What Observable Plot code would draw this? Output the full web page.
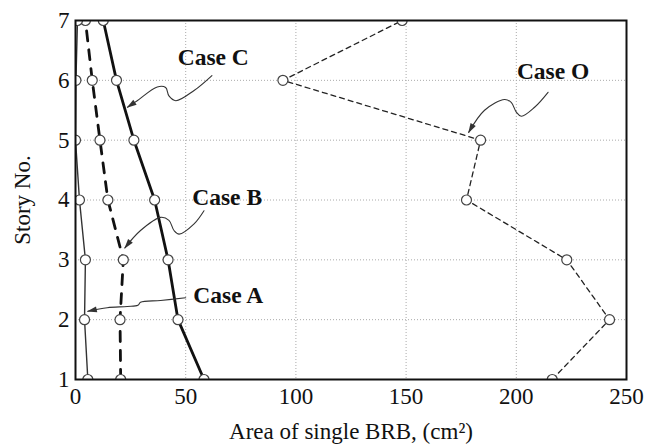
<!DOCTYPE html>
<html>
<head>
<meta charset="utf-8">
<script src="https://cdn.jsdelivr.net/npm/d3@7"></script>
<script src="https://cdn.jsdelivr.net/npm/@observablehq/plot@0.6"></script>
<style>
  html, body { margin: 0; padding: 0; background: white; }
</style>
</head>
<body>
<div id="chart"></div>
<script>
// ---- data ----
const stories = [1, 2, 3, 4, 5, 6, 7];
const caseO = [216.3, 242.3, 222.9, 177.4, 183.8, 94.1, 148.2];
const caseC = [58.3, 46.5, 42.0, 35.9, 26.5, 18.6, 12.6];
const caseB = [20.5, 20.2, 21.7, 14.7, 11.1, 7.6, 4.5];
const caseA = [5.6, 4.1, 4.5, 1.8, 0.0, 0.2, 0.9];

const xTicks = [0, 50, 100, 150, 200, 250];
const yTicks = [1, 2, 3, 4, 5, 6, 7];
const xGrid = [50, 100, 150, 200];
const yGrid = [2, 3, 4, 5, 6];

const xLabel = "Area of single BRB, (cm\u00B2)";
const yLabel = "Story No.";

// annotation labels
const labelText = ["Case C", "Case B", "Case A", "Case O"];
const labelX = [62.5, 68.8, 69.3, 216.7];
const labelY = [6.38, 4.04, 2.40, 6.14];

// annotation squiggle arrows (data coordinates)
const arrowCx = [61.9, 53.8, 45.5, 42.4, 40.9, 37.1, 28.0, 23.6];
const arrowCy = [6.08, 5.83, 5.66, 5.74, 5.88, 5.89, 5.66, 5.55];
const arrowBx = [58.3, 53.8, 47.0, 44.7, 42.4, 38.6, 29.5, 22.4];
const arrowBy = [3.82, 3.60, 3.43, 3.49, 3.66, 3.71, 3.49, 3.20];
const arrowAx = [50.0, 38.6, 29.5, 28.3, 23.5, 14.4, 5.6];
const arrowAy = [2.365, 2.32, 2.29, 2.24, 2.22, 2.20, 2.14];
const arrowOx = [214.4, 208.3, 202.3, 200.0, 197.7, 194.7, 185.6, 178.4];
const arrowOy = [5.80, 5.55, 5.40, 5.47, 5.63, 5.68, 5.50, 5.13];

const font = "'Liberation Serif', 'Times New Roman', serif";

const idx = a => a.map((_, i) => i);
const arrow = (xs, ys) => Plot.line(idx(xs), {
  x: xs, y: ys, curve: "catmull-rom", stroke: "#333", strokeWidth: 1.1,
  markerEnd: "arrow"
});
const dots = xs => Plot.dot(stories, {
  x: xs, y: stories, r: 5, fill: "white", stroke: "#444", strokeWidth: 1.2, clip: true
});

const chart = Plot.plot({
  width: 656,
  height: 446,
  marginLeft: 75,
  marginRight: 30,
  marginTop: 20,
  marginBottom: 67,
  style: { fontFamily: font, background: "white", color: "black" },
  x: { domain: [0, 250] },
  y: { domain: [1, 7] },
  marks: [
    Plot.gridX(xGrid, { stroke: "#aaa", strokeOpacity: 1, strokeWidth: 1, strokeDasharray: "1,2" }),
    Plot.gridY(yGrid, { stroke: "#aaa", strokeOpacity: 1, strokeWidth: 1, strokeDasharray: "1,2" }),
    Plot.axisX(xTicks, { tickSize: 0, tickPadding: 8, fontSize: 23, label: null, fill: "#111", tickFormat: d3.format("d") }),
    Plot.axisY(yTicks, { tickSize: 0, tickPadding: 6, fontSize: 23, label: null, fill: "#111", tickFormat: d3.format("d") }),
    Plot.text([xLabel], { frameAnchor: "bottom", dy: 52, lineAnchor: "middle", textAnchor: "middle", fontSize: 23, fill: "#111" }),
    Plot.text([yLabel], { frameAnchor: "left", dx: -53, rotate: -90, lineAnchor: "middle", textAnchor: "middle", fontSize: 23, fill: "#111" }),
    // series lines
    Plot.line(stories, { x: caseO, y: stories, stroke: "#222", strokeWidth: 1.3, strokeDasharray: "5,4", clip: true }),
    Plot.line(stories, { x: caseC, y: stories, stroke: "#111", strokeWidth: 2.8, clip: true }),
    Plot.line(stories, { x: caseB, y: stories, stroke: "#111", strokeWidth: 2.8, strokeDasharray: "10,9", clip: true }),
    Plot.line(stories, { x: caseA, y: stories, stroke: "#333", strokeWidth: 1.4, clip: true }),
    dots(caseO), dots(caseC), dots(caseB), dots(caseA),
    // annotations
    arrow(arrowCx, arrowCy),
    arrow(arrowBx, arrowBy),
    arrow(arrowAx, arrowAy),
    arrow(arrowOx, arrowOy),
    Plot.text(labelText, { x: labelX, y: labelY, text: d => d, fontSize: 23.5, fontWeight: "bold", fill: "#111" }),
    Plot.frame({ stroke: "#111", strokeWidth: 2 })
  ]
});

// filled arrowheads for the annotation arrows
chart.querySelectorAll("marker").forEach(m => {
  const color = m.getAttribute("stroke") || "#333";
  m.setAttribute("viewBox", "-10 -5 12 10");
  m.setAttribute("markerWidth", 12);
  m.setAttribute("markerHeight", 10);
  m.setAttribute("markerUnits", "userSpaceOnUse");
  m.setAttribute("fill", color);
  m.setAttribute("stroke", "none");
  const p = m.querySelector("path");
  if (p) p.setAttribute("d", "M-9,-3L1,0L-9,3Z");
});

document.getElementById("chart").appendChild(chart);
</script>
</body>
</html>
